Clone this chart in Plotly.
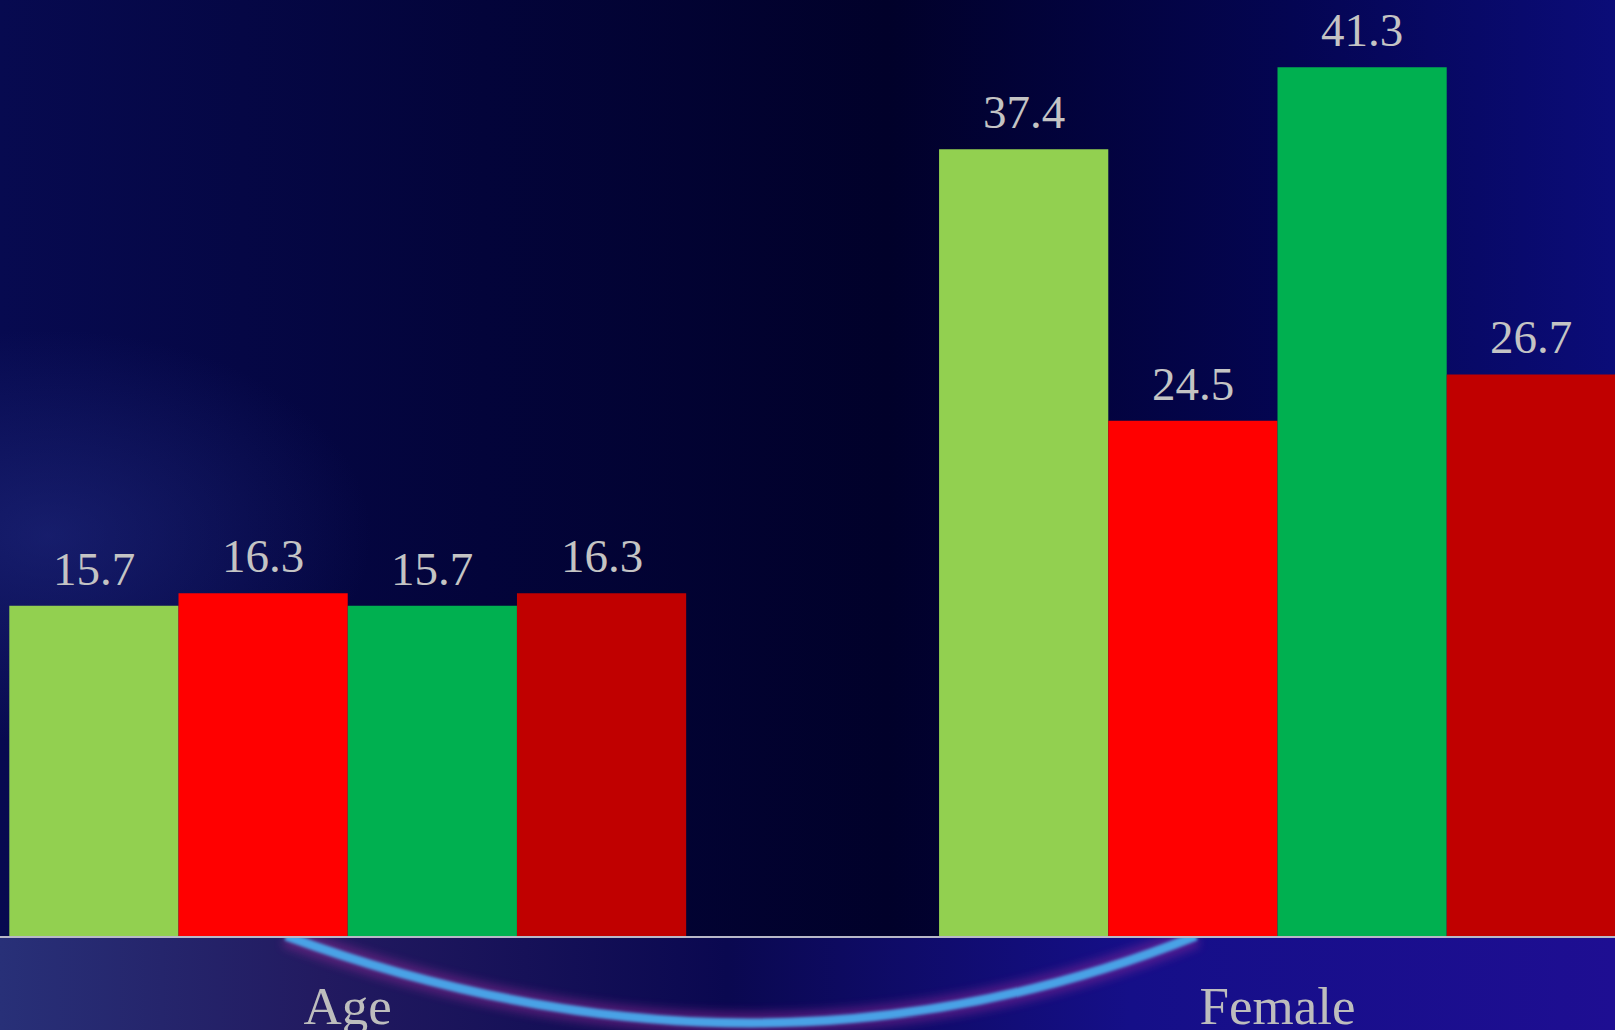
import base64
import plotly.graph_objects as go

# --- data -------------------------------------------------------------
categories = ["Age", "Female"]
series_names = ["Series 1", "Series 2", "Series 3", "Series 4"]
series_values = [
    [15.7, 37.4],
    [16.3, 24.5],
    [15.7, 41.3],
    [16.3, 26.7],
]
series_colors = ["#92D050", "#FF0000", "#00B050", "#C00000"]

W, H = 1615, 1030
PLOT_BOTTOM = 936  # pixel row of the category axis
BARGAP = 0.272

# --- slide-style backdrop (gradient + glowing arc under the axis) -------
svg = f"""<svg xmlns='http://www.w3.org/2000/svg' width='{W}' height='{H}' viewBox='0 0 {W} {H}'>
<defs>
  <linearGradient id='h' x1='0' y1='0' x2='1' y2='0'>
    <stop offset='0' stop-color='#070a50'/>
    <stop offset='0.3' stop-color='#03043a'/>
    <stop offset='0.55' stop-color='#01012a'/>
    <stop offset='0.8' stop-color='#040552'/>
    <stop offset='1' stop-color='#0b0c78'/>
  </linearGradient>
  <radialGradient id='glow' cx='0.03' cy='0.52' r='0.2' gradientTransform='translate(0,0)'>
    <stop offset='0' stop-color='#2a3590' stop-opacity='0.45'/>
    <stop offset='1' stop-color='#2a3590' stop-opacity='0'/>
  </radialGradient>
  <linearGradient id='floor' x1='0' y1='0' x2='1' y2='0'>
    <stop offset='0' stop-color='#283078'/>
    <stop offset='0.2' stop-color='#221a60'/>
    <stop offset='0.45' stop-color='#0a0850'/>
    <stop offset='0.7' stop-color='#150f88'/>
    <stop offset='1' stop-color='#1e0e92'/>
  </linearGradient>
  <filter id='blur'><feGaussianBlur stdDeviation='5'/></filter>
  <filter id='soft'><feGaussianBlur stdDeviation='1.6'/></filter>
</defs>
<rect x='0' y='0' width='{W}' height='{H}' fill='url(#h)'/>
<rect x='0' y='0' width='{W}' height='{H}' fill='url(#glow)'/>
<rect x='0' y='{PLOT_BOTTOM}' width='{W}' height='{H - PLOT_BOTTOM}' fill='url(#floor)'/>
<path d='M 286 {PLOT_BOTTOM} Q 760 1110 1196 {PLOT_BOTTOM}' stroke='#9a2a9a' stroke-width='22'
      fill='none' opacity='0.45' filter='url(#blur)'/>
<path d='M 286 {PLOT_BOTTOM} Q 760 1110 1196 {PLOT_BOTTOM}' stroke='#4aa2e6' stroke-width='9'
      fill='none' filter='url(#soft)'/>
</svg>"""
bg_uri = "data:image/svg+xml;base64," + base64.b64encode(svg.encode()).decode()

# --- figure -------------------------------------------------------------
fig = go.Figure()
x_pos = list(range(len(categories)))
n_series = len(series_values)
bar_w = (1 - BARGAP) / n_series

value_font = dict(family="Times New Roman, Liberation Serif, serif",
                  size=47, color="#C4C4C4")

annotations = []
for i, (name, vals, color) in enumerate(zip(series_names, series_values, series_colors)):
    fig.add_trace(go.Bar(
        x=x_pos, y=vals, name=name,
        marker=dict(color=color, line=dict(width=0)),
    ))
    # value labels sit centred over each bar of the group
    offset = -(1 - BARGAP) / 2 + bar_w * (i + 0.5)
    for xp, v in zip(x_pos, vals):
        annotations.append(dict(
            x=xp + offset, y=v, xref="x", yref="y",
            text=f"{v:.1f}", showarrow=False,
            xanchor="center", yanchor="bottom", yshift=9,
            font=value_font,
        ))

label_font = dict(family="Times New Roman, Liberation Serif, serif",
                  size=53, color="#BDBDBD")

fig.update_layout(
    width=W, height=H,
    margin=dict(l=0, r=0, t=0, b=H - PLOT_BOTTOM, autoexpand=False),
    paper_bgcolor="#030338",
    plot_bgcolor="rgba(0,0,0,0)",
    barmode="group", bargap=BARGAP, bargroupgap=0,
    showlegend=False,
    annotations=annotations,
    images=[dict(source=bg_uri, xref="paper", yref="paper",
                 x=0, y=1, sizex=1, sizey=H / PLOT_BOTTOM,
                 xanchor="left", yanchor="top", sizing="stretch",
                 layer="below")],
    xaxis=dict(
        range=[-0.374, 1.363],
        tickmode="array", tickvals=x_pos, ticktext=categories,
        tickfont=label_font, ticks="", ticklabelstandoff=22,
        showline=True, linecolor="#B8B8C8", linewidth=2,
        showgrid=False, zeroline=False, automargin=False, fixedrange=True,
    ),
    yaxis=dict(range=[0, 44.5], visible=False, showgrid=False,
               zeroline=False, automargin=False, fixedrange=True),
)

fig.write_html("out.html")
